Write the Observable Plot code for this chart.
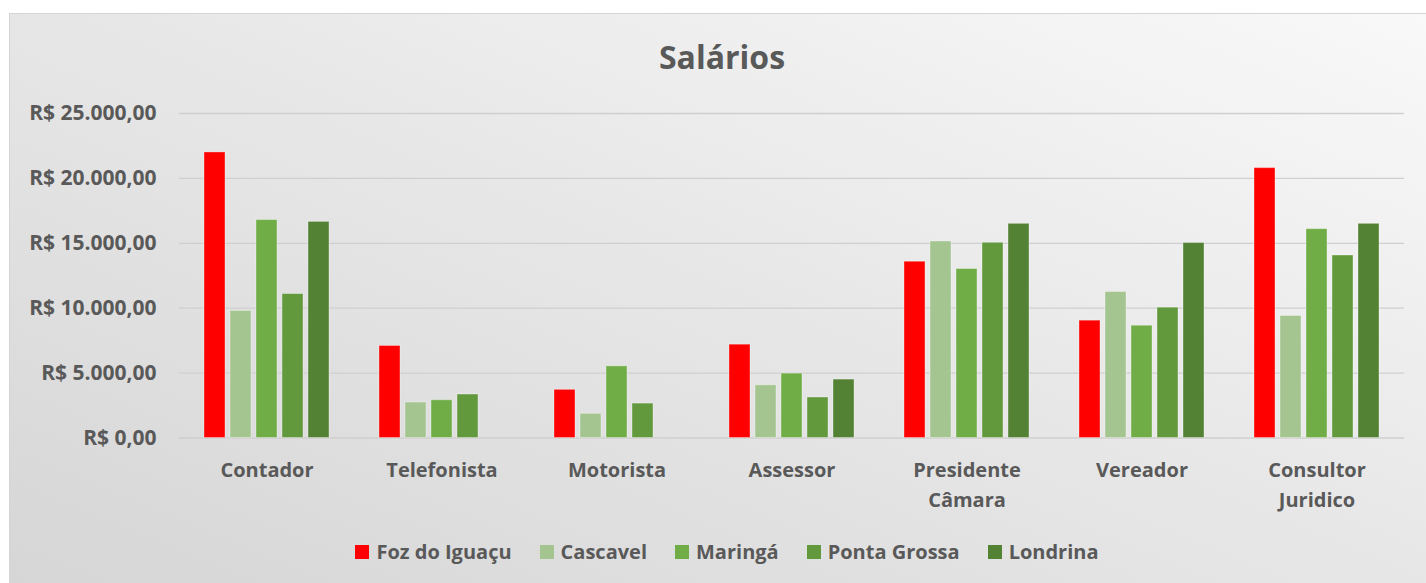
<!DOCTYPE html>
<html>
<head>
<meta charset="utf-8">
<script src="https://cdn.jsdelivr.net/npm/d3@7"></script>
<script src="https://cdn.jsdelivr.net/npm/@observablehq/plot@0.6"></script>
<style>
  html, body { margin: 0; padding: 0; background: #ffffff; width: 1426px; height: 583px; overflow: hidden; }
  body { position: relative; font-family: "Open Sans", sans-serif; color: #595959; }
  #frame { position: absolute; left: 9px; top: 13px; width: 1440px; height: 600px; border: 1px solid #d4d4d4;
           background: linear-gradient(to top right, #d5d5d5 0%, #e6e6e6 50%, #f9f9f9 100%); }
  #title { position: absolute; left: 0; top: 41px; width: 1444px; text-align: center; font-size: 32px; line-height: 32px; font-weight: 700; color: #595959; }
  #chart { position: absolute; left: 0; top: 90px; }
  #legend { position: absolute; left: 0; top: 542px; width: 1454px; display: flex; justify-content: center; align-items: center;
            font-size: 20px; line-height: 20px; font-weight: 700; color: #595959; }
  .item { display: flex; align-items: center; margin: 0 14px; }
  .sw { width: 14px; height: 14px; margin-right: 7px; }
</style>
</head>
<body>
<div id="frame"></div>
<div id="title">Salários</div>
<div id="chart"></div>
<div id="legend"></div>
<script>
const categories = ["Contador", "Telefonista", "Motorista", "Assessor", "Presidente Câmara", "Vereador", "Consultor Juridico"];
const categoryLabels = ["Contador", "Telefonista", "Motorista", "Assessor", "Presidente\nCâmara", "Vereador", "Consultor\nJuridico"];
const cities = ["Foz do Iguaçu", "Cascavel", "Maringá", "Ponta Grossa", "Londrina"];
const fozValues = [22000, 7090, 3710, 7190, 13580, 9040, 20790];
const cascavelValues = [9790, 2730, 1860, 4060, 15140, 11250, 9400];
const maringaValues = [16790, 2910, 5520, 4960, 13020, 8650, 16090];
const pontaGrossaValues = [11090, 3350, 2650, 3120, 15040, 10040, 14060];
const londrinaValues = [16650, null, null, 4500, 16500, 15020, 16500];
const yTicks = [0, 5000, 10000, 15000, 20000, 25000];
const cityColors = ["#ff0000", "#a4c490", "#70ad47", "#63993d", "#548235"];

const series = [fozValues, cascavelValues, maringaValues, pontaGrossaValues, londrinaValues];
const rows = [];
categories.forEach((cat, i) => {
  cities.forEach((city, j) => {
    const v = series[j][i];
    if (v != null) rows.push({category: cat, city, value: v});
  });
});

const locale = d3.formatLocale({decimal: ",", thousands: ".", grouping: [3], currency: ["R$ ", ""]});
const fmt = locale.format("$,.2f");
const labelOf = new Map(categories.map((c, i) => [c, categoryLabels[i]]));

const chart = Plot.plot({
  width: 1426,
  height: 435,
  marginTop: 23,
  marginBottom: 87.5,
  marginLeft: 178,
  marginRight: 21,
  style: {background: "transparent", fontFamily: "'Open Sans', sans-serif", fontSize: "21px", fontWeight: "700", color: "#595959"},
  fx: {domain: categories, padding: 0},
  x: {domain: cities, paddingInner: 0.208, paddingOuter: 0.86, axis: null},
  y: {domain: [0, 25000]},
  color: {domain: cities, range: cityColors},
  marks: [
    Plot.gridY(yTicks, {stroke: "#cfcfcf", strokeOpacity: 1, strokeWidth: 1.3}),
    Plot.axisY(yTicks, {tickSize: 0, tickPadding: 23, tickFormat: fmt, label: null}),
    Plot.axisFx({anchor: "bottom", tickSize: 0, tickPadding: 18, label: null, fontSize: 20, lineHeight: 1.5, tickFormat: d => labelOf.get(d)}),
    Plot.barY(rows, {fx: "category", x: "city", y: "value", fill: "city", stroke: "white", strokeOpacity: 0.35, strokeWidth: 1})
  ]
});
document.getElementById("chart").appendChild(chart);

const legend = document.getElementById("legend");
cities.forEach((c, i) => {
  const item = document.createElement("div");
  item.className = "item";
  const sw = document.createElement("span");
  sw.className = "sw";
  sw.style.background = cityColors[i];
  const t = document.createElement("span");
  t.textContent = c;
  item.appendChild(sw);
  item.appendChild(t);
  legend.appendChild(item);
});
</script>
</body>
</html>
